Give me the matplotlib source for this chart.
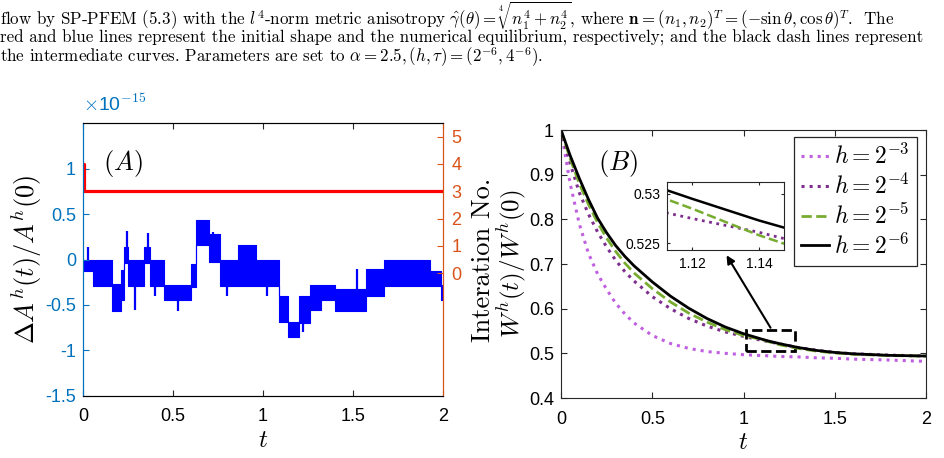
import matplotlib
matplotlib.use('Agg')
import matplotlib.pyplot as plt
from matplotlib.patches import Rectangle
import numpy as np

plt.rcParams['mathtext.fontset'] = 'cm'
plt.rcParams['axes.unicode_minus'] = False

# ---- caption lines (text from the page above the figure) ----
caption = [
    r'flow by SP-PFEM (5.3) with the $l^4$-norm metric anisotropy $\hat{\gamma}(\theta)=\sqrt[4]{n_1^4+n_2^4}$, where $\mathbf{n}=(n_1,n_2)^T=(-\sin\theta,\cos\theta)^T$.  The',
    'red and blue lines represent the initial shape and the numerical equilibrium, respectively; and the black dash lines represent',
    r'the intermediate curves. Parameters are set to $\alpha=2.5,(h,\tau)=(2^{-6},4^{-6})$.',
]

# ---- panel (A): relative area loss (x1e-15), drawn as blocks of fast oscillation ----
blue_t = [0.0, 0.055, 0.16, 0.21, 0.23, 0.25, 0.34, 0.37, 0.45, 0.60, 0.63, 0.70, 0.76,
          0.86, 0.96, 1.09, 1.14, 1.20, 1.26, 1.32, 1.40, 1.57, 1.67, 1.93, 1.99, 2.0]
blue_hi = [0.0, 0.0, -0.27, -0.11, 0.14, 0.0, 0.14, 0.0, -0.28, -0.05, 0.43, 0.28, 0.0,
           0.16, 0.0, -0.40, -0.69, -0.40, -0.28, -0.28, -0.32, -0.10, 0.0, -0.13, -0.28]
blue_lo = [-0.13, -0.29, -0.57, -0.44, -0.04, -0.29, -0.04, -0.29, -0.45, -0.30, 0.16, -0.03, -0.29,
           -0.29, -0.29, -0.69, -0.85, -0.70, -0.56, -0.45, -0.57, -0.40, -0.29, -0.29, -0.45]
# isolated spikes: time, low, high
spike_t = [0.03, 0.245, 0.29, 0.36, 0.40, 0.53, 0.72, 0.745, 0.80, 0.90, 1.02, 1.06, 1.22, 1.36, 1.52, 1.78, 1.86]
spike_lo = [0.0, 0.14, -0.55, 0.14, -0.40, -0.57, 0.28, 0.0, -0.40, -0.29, -0.40, -0.29, -0.80, -0.45, -0.45, -0.13, -0.13]
spike_hi = [0.14, 0.31, -0.29, 0.29, -0.29, -0.45, 0.30, 0.16, -0.29, 0.16, -0.29, -0.13, -0.70, -0.28, -0.10, 0.0, 0.0]

# iteration number of the solver
red_t = [0.0, 0.004, 2.0]
red_n = [4, 3, 3]

# ---- panel (B): normalized energy W^h(t)/W^h(0) ----
t_w = [0.0, 0.05, 0.1, 0.15, 0.2, 0.25, 0.3, 0.35, 0.4, 0.5, 0.6, 0.7, 0.8, 0.9, 1.0,
       1.1, 1.12, 1.14, 1.2, 1.3, 1.4, 1.5, 1.6, 1.8, 2.0]
w_h3 = [1.0, 0.880, 0.790, 0.724, 0.678, 0.643, 0.612, 0.588, 0.568, 0.540, 0.522, 0.511, 0.504,
        0.500, 0.497, 0.495, 0.4947, 0.4944, 0.493, 0.492, 0.490, 0.489, 0.487, 0.485, 0.482]
w_h4 = [1.0, 0.925, 0.860, 0.812, 0.772, 0.738, 0.708, 0.683, 0.662, 0.627, 0.600, 0.578, 0.561,
        0.548, 0.538, 0.529, 0.5275, 0.5261, 0.521, 0.513, 0.507, 0.502, 0.499, 0.496, 0.494]
w_h5 = [1.0, 0.936, 0.880, 0.834, 0.793, 0.758, 0.728, 0.702, 0.680, 0.645, 0.615, 0.590, 0.570,
        0.553, 0.540, 0.531, 0.5285, 0.5258, 0.519, 0.511, 0.505, 0.501, 0.498, 0.495, 0.494]
w_h6 = [1.0, 0.943, 0.892, 0.845, 0.803, 0.770, 0.741, 0.717, 0.696, 0.660, 0.628, 0.601, 0.578,
        0.559, 0.544, 0.5318, 0.5295, 0.5273, 0.5215, 0.513, 0.5065, 0.502, 0.499, 0.4955, 0.494]
labels_w = [r'$h=2^{-3}$', r'$h=2^{-4}$', r'$h=2^{-5}$', r'$h=2^{-6}$']

x_ticks = [0, 0.5, 1, 1.5, 2]
x_ticklabels = ['0', '0.5', '1', '1.5', '2']
a_ticks = [-1.5, -1, -0.5, 0, 0.5, 1]
a_ticklabels = ['-1.5', '-1', '-0.5', '0', '0.5', '1']
n_ticks = [0, 1, 2, 3, 4, 5]
n_ticklabels = ['0', '1', '2', '3', '4', '5']
w_ticks = [0.4, 0.5, 0.6, 0.7, 0.8, 0.9, 1.0]
w_ticklabels = ['0.4', '0.5', '0.6', '0.7', '0.8', '0.9', '1']
ins_xticks = [1.12, 1.14]
ins_xticklabels = ['1.12', '1.14']
ins_yticks = [0.525, 0.53]
ins_yticklabels = ['0.525', '0.53']

c_blue = '#0072BD'
c_orange = '#D95319'
c_axis = '#262626'
c_h3 = '#C060E0'
c_h4 = '#7E2F8E'
c_h5 = '#77AC30'
tick_font = 'Liberation Sans'

fig = plt.figure(figsize=(9.45, 4.58), dpi=100)

# caption, placed by baseline (pixels from the top)
cap_base = [25, 43, 62]
for line, yb in zip(caption, cap_base):
    fig.text(0.0, 1 - yb / 458, line, fontsize=12.2, family='cmr10', va='baseline', ha='left')

# ---------------- panel A ----------------
ax = fig.add_axes([0.0878, 0.1354, 0.381, 0.596])
ax.fill_between(blue_t, np.append(blue_lo, blue_lo[-1]), np.append(blue_hi, blue_hi[-1]),
                step='post', color='blue', linewidth=0.8, edgecolor='blue')
ax.vlines(spike_t, spike_lo, spike_hi, color='blue', linewidth=1.6)
ax.set_xlim(0, 2)
ax.set_ylim(-1.5, 1.5)
ax.set_xticks(x_ticks)
ax.set_xticklabels(x_ticklabels, family=tick_font, fontsize=13)
ax.set_yticks(a_ticks)
ax.set_yticklabels(a_ticklabels, family=tick_font, fontsize=13, color=c_blue)
ax.tick_params(axis='x', direction='in', top=True, length=4, color=c_axis, pad=9)
ax.tick_params(axis='y', direction='in', length=4, color=c_blue, pad=5)
ax.spines['left'].set_color(c_blue)
ax.spines['top'].set_color(c_axis)
ax.spines['bottom'].set_color(c_axis)
ax.spines['right'].set_color(c_orange)
ax.set_xlabel(r'$t$', fontsize=18, labelpad=2)
ax.set_ylabel(r'$\Delta A^h(t)/A^h(0)$', fontsize=19, labelpad=1)
ax.text(0.0, 1.03, r'$\times$10$^{\mathsf{-15}}$', transform=ax.transAxes, color=c_blue,
        fontsize=14, family=tick_font, ha='left', va='bottom')
ax.text(0.22, 1.05, r'$(A)$', fontsize=19, ha='center', va='center')

ax2 = ax.twinx()
ax2.plot(red_t, red_n, color='red', linewidth=2.3, drawstyle='steps-post')
ax2.set_ylim(-4.5, 5.5)
ax2.set_yticks(n_ticks)
ax2.set_yticklabels(n_ticklabels, family=tick_font, fontsize=13, color=c_orange)
ax2.tick_params(axis='y', direction='in', length=4, color=c_orange, pad=6)
ax2.spines['right'].set_color(c_orange)
ax2.spines['left'].set_color(c_blue)
ax2.set_ylabel('Interation No.', fontsize=19, family='cmr10', rotation=90, labelpad=7)

# ---------------- panel B ----------------
bx = fig.add_axes([0.5937, 0.131, 0.3862, 0.585])
bx.plot(t_w, w_h3, color=c_h3, linestyle=':', linewidth=2.2, label=labels_w[0])
bx.plot(t_w, w_h4, color=c_h4, linestyle=':', linewidth=2.2, label=labels_w[1])
bx.plot(t_w, w_h5, color=c_h5, linestyle='--', linewidth=2.0, label=labels_w[2])
bx.plot(t_w, w_h6, color='black', linestyle='-', linewidth=2.0, label=labels_w[3])
bx.set_xlim(0, 2)
bx.set_ylim(0.4, 1.0)
bx.set_xticks(x_ticks)
bx.set_xticklabels(x_ticklabels, family=tick_font, fontsize=13)
bx.set_yticks(w_ticks)
bx.set_yticklabels(w_ticklabels, family=tick_font, fontsize=13)
bx.tick_params(axis='x', direction='in', top=True, length=4, color=c_axis, pad=9)
bx.tick_params(axis='y', direction='in', right=True, length=4, color=c_axis, pad=5)
for s in bx.spines.values():
    s.set_color(c_axis)
bx.set_xlabel(r'$t$', fontsize=18, labelpad=2)
bx.set_ylabel(r'$W^h(t)/W^h(0)$', fontsize=18, labelpad=1)
bx.text(0.31, 0.925, r'$(B)$', fontsize=19, ha='center', va='center')

leg = bx.legend(loc='upper right', bbox_to_anchor=(0.975, 0.975), fontsize=17, handlelength=1.2,
                handletextpad=0.2, borderpad=0.3, labelspacing=0.2, fancybox=False,
                framealpha=1, borderaxespad=0)
leg.get_frame().set_edgecolor(c_axis)
leg.get_frame().set_linewidth(0.9)

# zoom box and arrow
bx.add_patch(Rectangle((1.014, 0.505), 0.268, 0.047, fill=False, linestyle='--',
                       linewidth=2.0, edgecolor='black'))
bx.annotate('', xy=(0.899, 0.725), xytext=(1.156, 0.552),
            arrowprops=dict(arrowstyle='-|>', color='black', linewidth=1.5, mutation_scale=12))

# inset
ix = fig.add_axes([0.7058, 0.4541, 0.1238, 0.1485])
ix.plot(t_w, w_h3, color=c_h3, linestyle=':', linewidth=2.0)
ix.plot(t_w, w_h4, color=c_h4, linestyle=':', linewidth=2.0)
ix.plot(t_w, w_h5, color=c_h5, linestyle='--', linewidth=1.8)
ix.plot(t_w, w_h6, color='black', linestyle='-', linewidth=1.8)
ix.set_xlim(1.1125, 1.1475)
ix.set_ylim(0.5243, 0.5312)
ix.set_xticks(ins_xticks)
ix.set_xticklabels(ins_xticklabels, family=tick_font, fontsize=10)
ix.set_yticks(ins_yticks)
ix.set_yticklabels(ins_yticklabels, family=tick_font, fontsize=10)
ix.tick_params(direction='in', top=True, right=True, length=2.5, color=c_axis, pad=5)
for s in ix.spines.values():
    s.set_color(c_axis)

fig.savefig('out.png', dpi=100)
